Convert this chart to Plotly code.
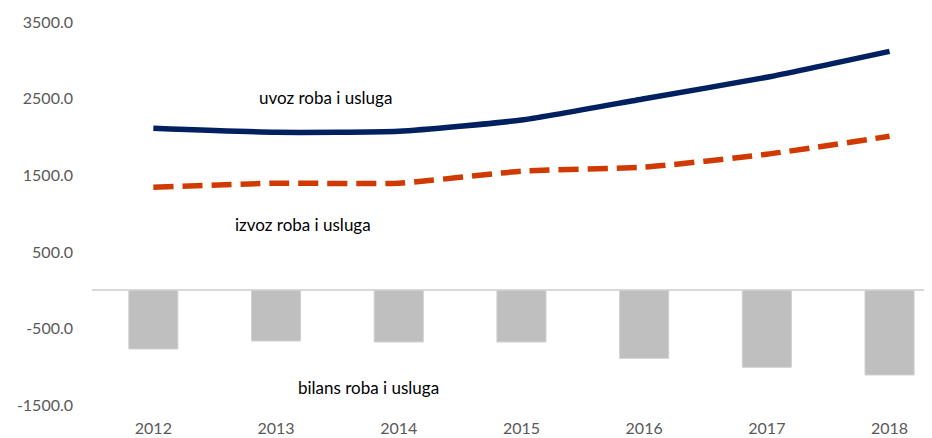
import plotly.graph_objects as go

years = ["2012", "2013", "2014", "2015", "2016", "2017", "2018"]
uvoz = [2115, 2062, 2075, 2222, 2500, 2779, 3117]
izvoz = [1346, 1398, 1398, 1555, 1607, 1776, 2010]
bilans = [-763, -659, -672, -672, -885, -1002, -1102]
y_ticks = [-1500, -500, 500, 1500, 2500, 3500]
y_ticktext = [f"{v:.1f}" for v in y_ticks]

FONT = "Lato, 'Open Sans', sans-serif"

fig = go.Figure()
fig.add_trace(go.Bar(
    x=years, y=bilans, name="bilans roba i usluga",
    marker=dict(color="#BFBFBF", line=dict(color="#D0D0D0", width=1)),
    width=0.4,
))
fig.add_trace(go.Scatter(
    x=years, y=uvoz, mode="lines", name="uvoz roba i usluga",
    line=dict(color="#002060", width=5.5, shape="spline", smoothing=0.5),
))
fig.add_trace(go.Scatter(
    x=years, y=izvoz, mode="lines", name="izvoz roba i usluga",
    line=dict(color="#D03A00", width=5.5, shape="spline", smoothing=0.5,
              dash="20px,9px"),
))

annotations = [
    dict(x=1.4, y=2520, text="uvoz roba i usluga"),
    dict(x=1.22, y=865, text="izvoz roba i usluga"),
    dict(x=1.75, y=-1265, text="bilans roba i usluga"),
]
for a in annotations:
    fig.add_annotation(x=a["x"], y=a["y"], text=a["text"], showarrow=False,
                       xref="x", yref="y",
                       font=dict(family=FONT, size=17, color="#000000"))

fig.update_layout(
    width=924, height=430,
    margin=dict(l=84, r=0, t=14, b=21, autoexpand=False),
    paper_bgcolor="white", plot_bgcolor="white",
    showlegend=False,
    font=dict(family=FONT, size=16, color="#595959"),
    bargap=0.6,
)
fig.update_xaxes(
    type="category", range=[-0.5, 6.346],
    showgrid=False, showline=False, ticks="", automargin=False,
    tickfont=dict(family=FONT, size=16, color="#595959"),
)
fig.update_yaxes(
    range=[-1650, 3500], tickvals=y_ticks, ticktext=y_ticktext,
    showgrid=False, showline=False, ticks="", automargin=False,
    zeroline=True, zerolinecolor="#D9D9D9", zerolinewidth=2,
    ticklabelstandoff=18,
    tickfont=dict(family=FONT, size=16, color="#595959"),
)

fig.write_html("out.html")
